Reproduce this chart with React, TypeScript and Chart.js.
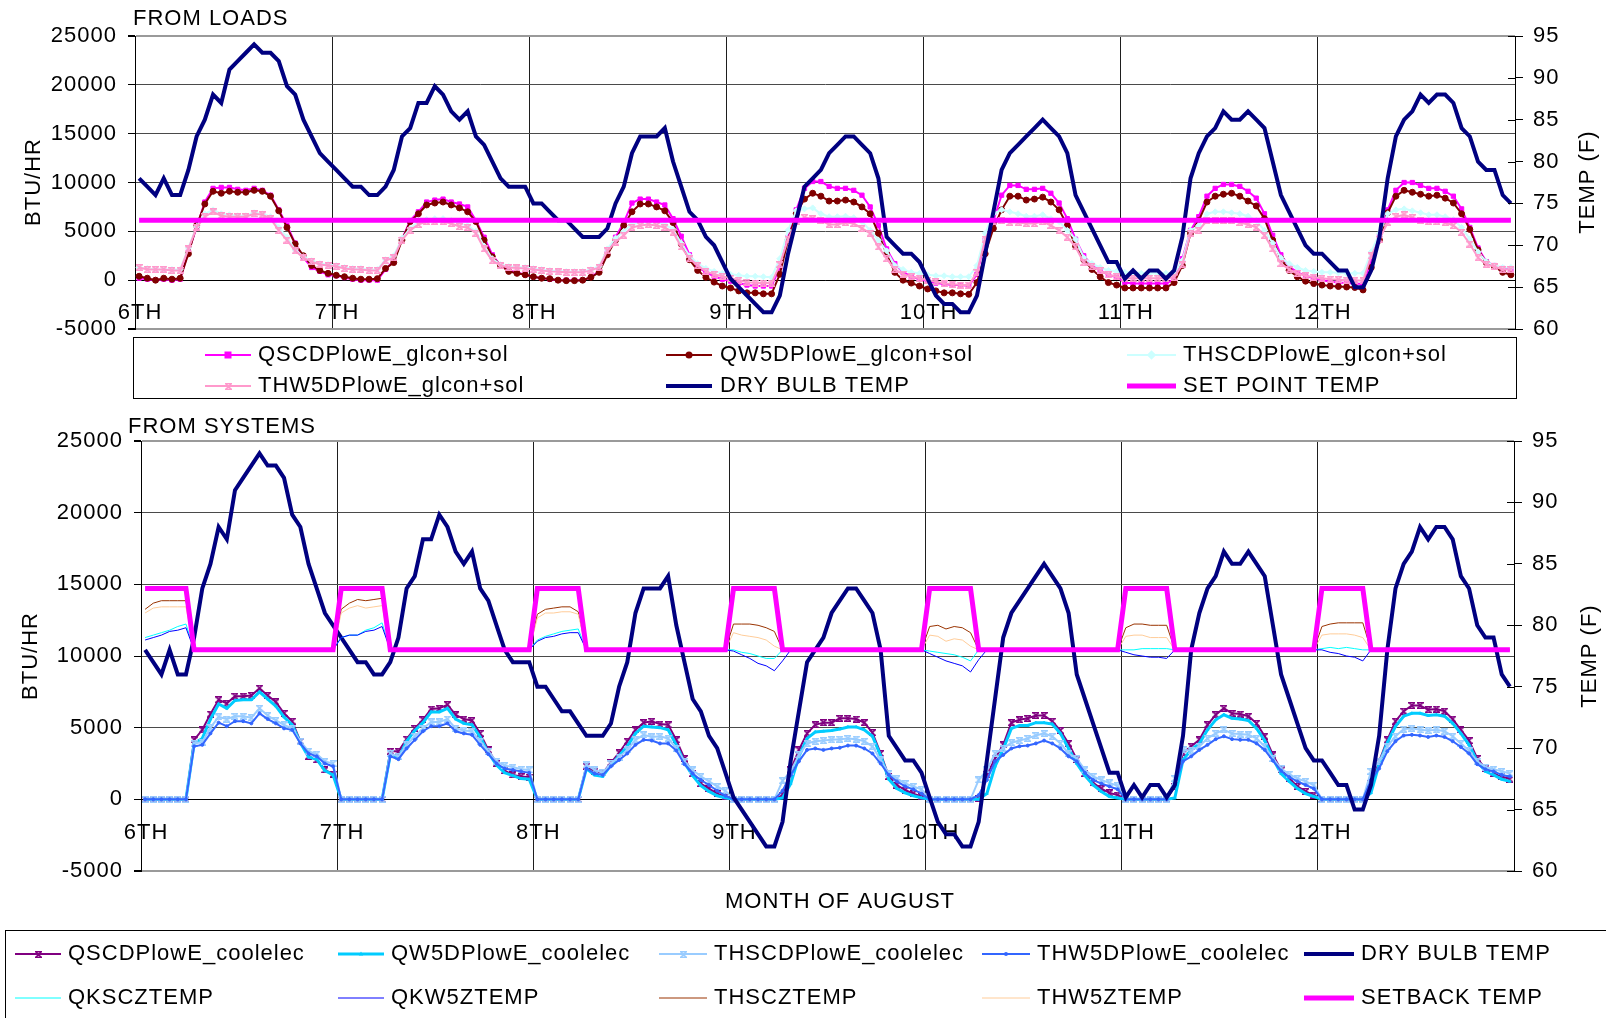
import React, { useEffect, useRef } from 'react';
import { Chart, registerables } from 'chart.js';

Chart.register(...registerables);

const FONT_FAMILY = '"Liberation Sans", Arial, Helvetica, sans-serif';
const FONT_SIZE = 22;
const LETTER_SPACING = '1px';

// ---------------- categories / ticks ----------------
const dayLabels = ['6TH', '7TH', '8TH', '9TH', '10TH', '11TH', '12TH'];
const hoursShown = 168;
const hoursPerDay = 24;
const btuMin = -5000;
const btuMax = 25000;
const btuStep = 5000;
const tempMin = 60;
const tempMax = 95;
const tempStep = 5;

// ---------------- FROM LOADS (BTU/HR) ----------------
const qscdLoads = [
  200, 100, 0, 100, 0, 100, 2900, 5400, 8000, 9400, 9500, 9500, 9300, 9200, 9400, 9200, 8700, 7200, 5600, 3800, 2300, 1300, 900, 550,
  450, 270, 100, 0, 0, 0, 1100, 2000, 4200, 6100, 7000, 8000, 8200, 8300, 8000, 7800, 7500, 6100, 4400, 2600, 1500, 1000, 800, 550,
  350, 200, 100, 0, 0, 0, 0, 300, 900, 2800, 4400, 5900, 7900, 8300, 8300, 8000, 7700, 6300, 4500, 2600, 1400, 800, 400, 100,
  -100, -300, -500, -600, -600, -600, 1300, 4400, 7200, 9400, 10100, 10100, 9600, 9400, 9400, 9200, 8700, 7500, 5600, 3200, 1700, 800, 400, 100,
  -100, -300, -400, -500, -500, -600, 600, 4100, 6100, 8700, 9700, 9700, 9300, 9300, 9400, 8900, 7900, 6300, 4200, 2500, 1500, 1000, 550, 300,
  -250, -350, -350, -350, -350, -350, 100, 2200, 5100, 6500, 8600, 9400, 9800, 9800, 9600, 9100, 8400, 6800, 4600, 2600, 1400, 800, 450, 200,
  0, -150, -250, -300, -350, -400, 2000, 4600, 7200, 9200, 10000, 10000, 9700, 9400, 9400, 9100, 8600, 7300, 5400, 3300, 1900, 1500, 1200, 1100,
];
const qw5Loads = [
  400, 200, 0, 200, 100, 200, 2700, 5600, 7800, 9100, 8900, 9100, 9000, 9000, 9200, 9100, 8600, 7100, 5400, 3700, 2500, 1500, 1000, 700,
  500, 350, 200, 100, 100, 150, 1200, 1800, 4100, 6000, 6800, 7700, 7900, 8000, 7700, 7400, 7000, 6000, 4100, 2400, 1500, 900, 700, 550,
  350, 200, 150, 0, -50, -50, 0, 300, 800, 2600, 4100, 5600, 7000, 7800, 7800, 7500, 7100, 5900, 3700, 2100, 1000, 300, -200, -600,
  -800, -1100, -1300, -1300, -1400, -1400, 600, 4100, 6800, 8300, 8900, 8600, 8100, 8100, 8200, 8000, 7500, 6800, 4800, 2700, 800, 0, -300, -600,
  -900, -1100, -1300, -1300, -1400, -1450, -250, 2700, 5300, 7200, 8600, 8600, 8200, 8300, 8500, 8000, 7200, 5600, 3500, 2100, 1100, 350, -250, -500,
  -800, -800, -800, -800, -800, -800, -250, 1500, 4800, 6100, 8000, 8600, 8800, 8900, 8600, 8100, 7600, 6300, 4100, 2200, 1000, 350, -100, -350,
  -500, -600, -650, -700, -750, -1000, 1300, 4100, 6900, 8600, 9200, 9000, 8800, 8600, 8700, 8400, 7900, 6800, 5200, 3100, 1800, 1400, 800, 550,
];
const thscLoads = [
  1300, 1200, 1100, 1100, 1100, 1100, 3300, 5500, 6800, 7200, 6800, 6700, 6600, 6600, 6900, 6800, 6500, 5400, 4400, 3100, 2400, 2000, 1700, 1600,
  1500, 1300, 1200, 1200, 1100, 1100, 2100, 2500, 4300, 5300, 6000, 6200, 6300, 6300, 6100, 5800, 5600, 5000, 3500, 2200, 1600, 1400, 1350, 1300,
  1200, 1100, 1000, 950, 900, 900, 900, 1100, 1400, 3200, 4300, 5000, 5700, 5900, 5900, 5900, 5700, 5200, 3800, 2500, 1700, 1200, 900, 700,
  600, 500, 400, 400, 350, 300, 2200, 5100, 7100, 7300, 7400, 6800, 6500, 6500, 6550, 6400, 6000, 5100, 4100, 3000, 1500, 1100, 800, 700,
  550, 450, 450, 350, 350, 350, 1500, 4800, 6800, 7200, 7000, 6800, 6550, 6550, 6700, 6300, 6000, 5100, 4200, 2300, 1700, 1300, 1000, 900,
  800, 800, 700, 700, 700, 700, 650, 2000, 5100, 5600, 6800, 7000, 7000, 6900, 6800, 6550, 6100, 5100, 3800, 2300, 1700, 1300, 1000, 900,
  800, 800, 750, 700, 700, 700, 2900, 4800, 6800, 7200, 7300, 7100, 6900, 6700, 6700, 6500, 6200, 5400, 4200, 2900, 1900, 1500, 1300, 1300,
];
const thw5Loads = [
  1300, 1100, 1100, 1100, 1000, 1000, 3200, 5400, 6500, 7000, 6600, 6500, 6500, 6500, 6800, 6700, 6300, 5100, 4100, 3000, 2300, 1900, 1600, 1500,
  1400, 1200, 1100, 1100, 1000, 1000, 2000, 2300, 4100, 5100, 5700, 6000, 6000, 6000, 5800, 5500, 5400, 4800, 3200, 2000, 1500, 1300, 1250, 1200,
  1100, 1000, 900, 850, 800, 800, 800, 1000, 1300, 3000, 3900, 4600, 5400, 5600, 5700, 5600, 5400, 4900, 3400, 2200, 1500, 900, 600, 400,
  200, 0, -200, -300, -300, -300, 1600, 4200, 6000, 6400, 6300, 6100, 5700, 5700, 5900, 5800, 5300, 4800, 3400, 2200, 1100, 600, 350, 200,
  0, -150, -350, -400, -500, -500, 800, 4200, 6000, 6100, 5900, 5900, 5800, 5800, 6000, 5600, 5100, 4400, 3400, 1800, 1400, 1000, 550, 350,
  200, 200, 200, 200, 200, 200, 300, 1600, 4800, 5100, 6100, 6100, 6100, 6100, 5900, 5700, 5400, 4600, 3200, 1700, 1100, 700, 450, 300,
  200, 100, 50, 0, 0, -50, 2500, 4200, 5900, 6500, 6700, 6400, 6100, 6000, 6000, 5900, 5600, 4900, 3700, 2300, 1600, 1400, 1100, 1100,
];

// ---------------- temperatures (F) ----------------
const dryBulbTemp = [
  78, 77, 76, 78, 76, 76, 79, 83, 85, 88, 87, 91, 92, 93, 94, 93, 93, 92, 89, 88, 85, 83, 81, 80,
  79, 78, 77, 77, 76, 76, 77, 79, 83, 84, 87, 87, 89, 88, 86, 85, 86, 83, 82, 80, 78, 77, 77, 77,
  75, 75, 74, 73, 73, 72, 71, 71, 71, 72, 75, 77, 81, 83, 83, 83, 84, 80, 77, 74, 73, 71, 70, 68,
  66, 65, 64, 63, 62, 62, 64, 69, 73, 77, 78, 79, 81, 82, 83, 83, 82, 81, 78, 71, 70, 69, 69, 68,
  66, 64, 63, 63, 62, 62, 64, 69, 74, 79, 81, 82, 83, 84, 85, 84, 83, 81, 76, 74, 72, 70, 68, 68,
  66, 67, 66, 67, 67, 66, 67, 71, 78, 81, 83, 84, 86, 85, 85, 86, 85, 84, 80, 76, 74, 72, 70, 69,
  69, 68, 67, 67, 65, 65, 67, 71, 78, 83, 85, 86, 88, 87, 88, 88, 87, 84, 83, 80, 79, 79, 76, 75,
];
const setPointTemp = [
  73, 73, 73, 73, 73, 73, 73, 73, 73, 73, 73, 73, 73, 73, 73, 73, 73, 73, 73, 73, 73, 73, 73, 73,
  73, 73, 73, 73, 73, 73, 73, 73, 73, 73, 73, 73, 73, 73, 73, 73, 73, 73, 73, 73, 73, 73, 73, 73,
  73, 73, 73, 73, 73, 73, 73, 73, 73, 73, 73, 73, 73, 73, 73, 73, 73, 73, 73, 73, 73, 73, 73, 73,
  73, 73, 73, 73, 73, 73, 73, 73, 73, 73, 73, 73, 73, 73, 73, 73, 73, 73, 73, 73, 73, 73, 73, 73,
  73, 73, 73, 73, 73, 73, 73, 73, 73, 73, 73, 73, 73, 73, 73, 73, 73, 73, 73, 73, 73, 73, 73, 73,
  73, 73, 73, 73, 73, 73, 73, 73, 73, 73, 73, 73, 73, 73, 73, 73, 73, 73, 73, 73, 73, 73, 73, 73,
  73, 73, 73, 73, 73, 73, 73, 73, 73, 73, 73, 73, 73, 73, 73, 73, 73, 73, 73, 73, 73, 73, 73, 73,
];
const setbackTemp = [
  83, 83, 83, 83, 83, 83, 78, 78, 78, 78, 78, 78, 78, 78, 78, 78, 78, 78, 78, 78, 78, 78, 78, 78,
  83, 83, 83, 83, 83, 83, 78, 78, 78, 78, 78, 78, 78, 78, 78, 78, 78, 78, 78, 78, 78, 78, 78, 78,
  83, 83, 83, 83, 83, 83, 78, 78, 78, 78, 78, 78, 78, 78, 78, 78, 78, 78, 78, 78, 78, 78, 78, 78,
  83, 83, 83, 83, 83, 83, 78, 78, 78, 78, 78, 78, 78, 78, 78, 78, 78, 78, 78, 78, 78, 78, 78, 78,
  83, 83, 83, 83, 83, 83, 78, 78, 78, 78, 78, 78, 78, 78, 78, 78, 78, 78, 78, 78, 78, 78, 78, 78,
  83, 83, 83, 83, 83, 83, 78, 78, 78, 78, 78, 78, 78, 78, 78, 78, 78, 78, 78, 78, 78, 78, 78, 78,
  83, 83, 83, 83, 83, 83, 78, 78, 78, 78, 78, 78, 78, 78, 78, 78, 78, 78, 78, 78, 78, 78, 78, 78,
];

// ---------------- FROM SYSTEMS (BTU/HR) ----------------
const qscdElec = [
  0, 0, 0, 0, 0, 0, 4150, 4850, 5950, 6950, 6700, 7200, 7200, 7250, 7750, 7250, 6800, 6000, 5450, 4050, 3000, 2750, 2050, 1750,
  0, 0, 0, 0, 0, 0, 3350, 3350, 4200, 4950, 5550, 6300, 6350, 6600, 5900, 5600, 5500, 4600, 3450, 2500, 2000, 1700, 1600, 1550,
  0, 0, 0, 0, 0, 0, 2300, 1950, 1850, 2550, 3250, 4050, 4850, 5350, 5450, 5250, 5200, 4150, 2850, 1800, 1100, 750, 400, 200,
  0, 0, 0, 0, 0, 0, 300, 2050, 3450, 4600, 5200, 5350, 5350, 5650, 5650, 5600, 5350, 4650, 3200, 1600, 1000, 650, 400, 200,
  0, 0, 0, 0, 0, 0, 50, 1700, 2850, 3800, 5350, 5550, 5650, 5850, 5850, 5450, 4800, 3900, 2800, 1800, 1150, 750, 450, 300,
  0, 0, 0, 0, 0, 0, 900, 3250, 3700, 4150, 5200, 5900, 6350, 6000, 5950, 5800, 5300, 4400, 3100, 2050, 1450, 900, 550, 300,
  0, 0, 0, 0, 0, 0, 1100, 2650, 4150, 5450, 6150, 6550, 6550, 6250, 6300, 6150, 5600, 4850, 4100, 2850, 2150, 1800, 1600, 1400,
];
const qw5Elec = [
  0, 0, 0, 0, 0, 0, 3900, 4250, 5600, 6650, 6350, 6900, 6950, 6950, 7500, 7000, 6500, 5750, 5200, 3950, 2950, 2800, 2000, 1700,
  0, 0, 0, 0, 0, 0, 3100, 2850, 4050, 4800, 5350, 6100, 6100, 6350, 5600, 5300, 5200, 4350, 3250, 2400, 1850, 1650, 1450, 1400,
  0, 0, 0, 0, 0, 0, 2150, 1700, 1600, 2400, 3050, 3700, 4600, 5100, 5050, 5000, 4850, 3800, 2550, 1650, 950, 550, 250, 100,
  0, 0, 0, 0, 0, 0, 100, 1100, 3000, 4250, 4700, 4750, 4800, 4900, 5050, 5050, 4850, 4400, 3050, 1400, 750, 450, 250, 100,
  0, 0, 0, 0, 0, 0, 0, 400, 2300, 3500, 4950, 5150, 5150, 5350, 5350, 5250, 4600, 3550, 2500, 1650, 1000, 550, 200, 100,
  0, 0, 0, 0, 0, 0, 100, 2750, 3450, 3900, 4850, 5550, 5900, 5650, 5600, 5500, 4950, 4100, 2850, 1800, 1250, 750, 400, 200,
  0, 0, 0, 0, 0, 0, 450, 2450, 3950, 5100, 5800, 6000, 6000, 5850, 5900, 5800, 5300, 4600, 3800, 2650, 1950, 1700, 1400, 1250,
];
const thscElec = [
  0, 0, 0, 0, 0, 0, 3900, 4000, 5000, 5750, 5600, 5800, 5800, 5700, 6350, 5850, 5500, 5200, 4950, 4050, 3350, 3150, 2650, 2500,
  0, 0, 0, 0, 0, 0, 3200, 3000, 3800, 4400, 4950, 5400, 5400, 5600, 4950, 4800, 4750, 4050, 3350, 2650, 2350, 2250, 2100, 2050,
  0, 0, 0, 0, 0, 0, 2400, 2050, 1850, 2500, 2950, 3450, 4150, 4500, 4350, 4400, 4250, 3550, 2650, 2050, 1600, 1250, 900, 600,
  0, 0, 0, 0, 0, 0, 1300, 1950, 3100, 3900, 4050, 4100, 4150, 4200, 4250, 4200, 4050, 3700, 2750, 1800, 1450, 1100, 900, 700,
  0, 0, 0, 0, 0, 0, 1350, 2050, 3200, 3550, 3950, 4100, 4250, 4450, 4600, 4400, 3900, 3200, 2850, 2050, 1600, 1350, 1150, 950,
  0, 0, 0, 0, 0, 0, 1450, 3450, 3400, 3700, 4250, 4600, 4850, 4600, 4550, 4500, 4250, 3700, 2850, 2150, 1750, 1450, 1250, 1000,
  0, 0, 0, 0, 0, 0, 1950, 2650, 3700, 4400, 4900, 4950, 4850, 4800, 4850, 4750, 4400, 3900, 3400, 2650, 2250, 2100, 1950, 1800,
];
const thw5Elec = [
  0, 0, 0, 0, 0, 0, 3700, 3800, 4600, 5350, 5100, 5450, 5450, 5300, 6000, 5600, 5300, 4950, 4850, 3900, 3200, 3000, 2500, 2300,
  0, 0, 0, 0, 0, 0, 3000, 2800, 3550, 4150, 4750, 5100, 5100, 5300, 4750, 4600, 4500, 3800, 3150, 2500, 2150, 2050, 1950, 1850,
  0, 0, 0, 0, 0, 0, 2150, 1800, 1700, 2300, 2750, 3200, 3800, 4150, 4100, 3900, 3900, 3400, 2450, 1800, 1350, 1000, 600, 250,
  0, 0, 0, 0, 0, 0, 600, 1700, 2650, 3450, 3550, 3450, 3550, 3600, 3750, 3750, 3550, 3200, 2500, 1700, 1250, 900, 700, 400,
  0, 0, 0, 0, 0, 0, 300, 1350, 2650, 3100, 3550, 3700, 3750, 3900, 4100, 3900, 3550, 3000, 2650, 1850, 1350, 1100, 900, 700,
  0, 0, 0, 0, 0, 0, 1100, 2650, 3000, 3450, 3800, 4200, 4400, 4200, 4150, 4150, 3900, 3450, 2700, 2000, 1550, 1250, 1000, 750,
  0, 0, 0, 0, 0, 0, 1350, 2150, 3350, 4050, 4450, 4500, 4450, 4350, 4450, 4350, 4050, 3650, 3200, 2450, 2100, 1950, 1700, 1600,
];

// ---------------- zone temperatures (F) ----------------
const qkscZTemp = [
  79.0, 79.2, 79.4, 79.6, 79.9, 80.1, 78, 78, 78, 78, 78, 78, 78, 78, 78, 78, 78, 78, 78, 78, 78, 78, 78, 78,
  79.0, 79.2, 79.2, 79.6, 79.8, 80.2, 78, 78, 78, 78, 78, 78, 78, 78, 78, 78, 78, 78, 78, 78, 78, 78, 78, 78,
  78.8, 79.1, 79.3, 79.5, 79.6, 79.7, 78, 78, 78, 78, 78, 78, 78, 78, 78, 78, 78, 78, 78, 78, 78, 78, 78, 78,
  78.0, 77.8, 77.7, 77.5, 77.3, 77.3, 78, 78, 78, 78, 78, 78, 78, 78, 78, 78, 78, 78, 78, 78, 78, 78, 78, 78,
  77.9, 77.8, 77.7, 77.6, 77.4, 77.1, 78, 78, 78, 78, 78, 78, 78, 78, 78, 78, 78, 78, 78, 78, 78, 78, 78, 78,
  78.0, 78.0, 78.1, 78.1, 78.1, 78.1, 78, 78, 78, 78, 78, 78, 78, 78, 78, 78, 78, 78, 78, 78, 78, 78, 78, 78,
  78.1, 78.2, 78.1, 78.2, 78.1, 78.0, 78, 78, 78, 78, 78, 78, 78, 78, 78, 78, 78, 78, 78, 78, 78, 78, 78, 78,
];
const qkw5ZTemp = [
  78.8, 79.0, 79.2, 79.5, 79.6, 79.8, 78, 78, 78, 78, 78, 78, 78, 78, 78, 78, 78, 78, 78, 78, 78, 78, 78, 78,
  79.0, 79.2, 79.2, 79.5, 79.6, 79.9, 78, 78, 78, 78, 78, 78, 78, 78, 78, 78, 78, 78, 78, 78, 78, 78, 78, 78,
  78.7, 79.0, 79.1, 79.3, 79.4, 79.4, 78, 78, 78, 78, 78, 78, 78, 78, 78, 78, 78, 78, 78, 78, 78, 78, 78, 78,
  77.9, 77.6, 77.3, 76.9, 76.7, 76.3, 77.1, 78, 78, 78, 78, 78, 78, 78, 78, 78, 78, 78, 78, 78, 78, 78, 78, 78,
  77.7, 77.4, 77.1, 76.9, 76.7, 76.2, 77.2, 78, 78, 78, 78, 78, 78, 78, 78, 78, 78, 78, 78, 78, 78, 78, 78, 78,
  77.8, 77.6, 77.5, 77.4, 77.4, 77.3, 78, 78, 78, 78, 78, 78, 78, 78, 78, 78, 78, 78, 78, 78, 78, 78, 78, 78,
  78.0, 77.8, 77.7, 77.5, 77.4, 77.1, 78, 78, 78, 78, 78, 78, 78, 78, 78, 78, 78, 78, 78, 78, 78, 78, 78, 78,
];
const thscZTemp = [
  81.3, 81.8, 82.0, 82.0, 82.0, 82.0, 78, 78, 78, 78, 78, 78, 78, 78, 78, 78, 78, 78, 78, 78, 78, 78, 78, 78,
  81.3, 81.8, 82.1, 82.0, 82.1, 82.2, 78, 78, 78, 78, 78, 78, 78, 78, 78, 78, 78, 78, 78, 78, 78, 78, 78, 78,
  80.9, 81.3, 81.4, 81.5, 81.5, 81.1, 78, 78, 78, 78, 78, 78, 78, 78, 78, 78, 78, 78, 78, 78, 78, 78, 78, 78,
  80.1, 80.1, 80.1, 80.0, 79.8, 79.5, 78, 78, 78, 78, 78, 78, 78, 78, 78, 78, 78, 78, 78, 78, 78, 78, 78, 78,
  79.9, 80.0, 79.7, 79.9, 79.8, 79.4, 78, 78, 78, 78, 78, 78, 78, 78, 78, 78, 78, 78, 78, 78, 78, 78, 78, 78,
  79.8, 80.1, 80.1, 80.0, 80.0, 80.0, 78, 78, 78, 78, 78, 78, 78, 78, 78, 78, 78, 78, 78, 78, 78, 78, 78, 78,
  79.9, 80.1, 80.2, 80.2, 80.2, 80.2, 78, 78, 78, 78, 78, 78, 78, 78, 78, 78, 78, 78, 78, 78, 78, 78, 78, 78,
];
const thw5ZTemp = [
  81.0, 81.4, 81.5, 81.5, 81.5, 81.5, 78, 78, 78, 78, 78, 78, 78, 78, 78, 78, 78, 78, 78, 78, 78, 78, 78, 78,
  81.0, 81.4, 81.6, 81.4, 81.5, 81.6, 78, 78, 78, 78, 78, 78, 78, 78, 78, 78, 78, 78, 78, 78, 78, 78, 78, 78,
  80.6, 81.0, 81.0, 81.1, 81.1, 80.9, 78, 78, 78, 78, 78, 78, 78, 78, 78, 78, 78, 78, 78, 78, 78, 78, 78, 78,
  79.4, 79.2, 79.1, 79.0, 78.8, 78.3, 78, 78, 78, 78, 78, 78, 78, 78, 78, 78, 78, 78, 78, 78, 78, 78, 78, 78,
  79.2, 79.1, 78.7, 78.9, 78.8, 78.3, 78, 78, 78, 78, 78, 78, 78, 78, 78, 78, 78, 78, 78, 78, 78, 78, 78, 78,
  79.1, 79.2, 79.2, 79.0, 79.0, 79.0, 78, 78, 78, 78, 78, 78, 78, 78, 78, 78, 78, 78, 78, 78, 78, 78, 78, 78,
  79.2, 79.3, 79.3, 79.3, 79.2, 79.0, 78, 78, 78, 78, 78, 78, 78, 78, 78, 78, 78, 78, 78, 78, 78, 78, 78, 78,
];

// ---------------- helpers ----------------
const font = (size = FONT_SIZE) => ({ family: FONT_FAMILY, size });

function toPoints(values: number[]) {
  // hourly values are centred in their hour slot
  return values.map((v, i) => ({ x: i + 0.5, y: v }));
}

// Excel-like "star" marker: an X closed by top and bottom bars
function hourglassMarker(color: string, size = 7, lw = 1.4): HTMLCanvasElement {
  const c = document.createElement('canvas');
  c.width = size;
  c.height = size;
  const g = c.getContext('2d') as CanvasRenderingContext2D;
  g.strokeStyle = color;
  g.lineWidth = lw;
  g.beginPath();
  g.moveTo(0, 0.7);
  g.lineTo(size, 0.7);
  g.moveTo(0, size - 0.7);
  g.lineTo(size, size - 0.7);
  g.moveTo(0.5, 0.5);
  g.lineTo(size - 0.5, size - 0.5);
  g.moveTo(size - 0.5, 0.5);
  g.lineTo(0.5, size - 0.5);
  g.stroke();
  return c;
}

function drawMarker(ctx: CanvasRenderingContext2D, style: any, x: number, y: number, r: number, color: string, bw: number) {
  ctx.save();
  if (style && typeof style === 'object') {
    ctx.drawImage(style, Math.round(x - style.width / 2), Math.round(y - style.height / 2));
    ctx.restore();
    return;
  }
  ctx.fillStyle = color;
  ctx.strokeStyle = color;
  ctx.lineWidth = bw;
  ctx.beginPath();
  if (style === 'rect') {
    ctx.rect(x - r, y - r, 2 * r, 2 * r);
    ctx.fill();
  } else if (style === 'rectRot') {
    const d = r * 1.35;
    ctx.moveTo(x, y - d);
    ctx.lineTo(x + d, y);
    ctx.lineTo(x, y + d);
    ctx.lineTo(x - d, y);
    ctx.closePath();
    ctx.fill();
  } else if (style === 'triangle') {
    ctx.moveTo(x, y - r * 1.2);
    ctx.lineTo(x + r * 1.1, y + r * 0.8);
    ctx.lineTo(x - r * 1.1, y + r * 0.8);
    ctx.closePath();
    ctx.fill();
  } else {
    ctx.arc(x, y, r, 0, Math.PI * 2);
    ctx.fill();
  }
  ctx.restore();
}

type TextSpec = { text: string; x: number; y: number; rotate?: boolean; align?: CanvasTextAlign };
type LegendSpec = { ds: number; x1: number; x2: number; tx: number; y: number };

function makeExtras(texts: TextSpec[], legend: LegendSpec[], box: { x: number; y: number; w: number; h: number }) {
  return {
    id: 'extras',
    beforeUpdate(chart: any) {
      chart.ctx.letterSpacing = LETTER_SPACING;
    },
    beforeDraw(chart: any) {
      chart.ctx.letterSpacing = LETTER_SPACING;
    },
    afterDraw(chart: any) {
      const ctx: CanvasRenderingContext2D = chart.ctx;
      ctx.save();
      // inner half of the cross tick marks on the temperature axis
      const y1 = chart.scales.y1;
      ctx.strokeStyle = '#000';
      ctx.lineWidth = 1;
      ctx.beginPath();
      for (const t of y1.ticks) {
        const py = Math.round(y1.getPixelForValue(t.value)) + 0.5;
        ctx.moveTo(y1.left - 7, py);
        ctx.lineTo(y1.left, py);
      }
      ctx.stroke();

      (ctx as any).letterSpacing = LETTER_SPACING;
      ctx.fillStyle = '#000';
      ctx.font = `${FONT_SIZE}px ${FONT_FAMILY}`;
      ctx.textBaseline = 'middle';
      for (const t of texts) {
        ctx.save();
        ctx.translate(t.x, t.y);
        if (t.rotate) ctx.rotate(-Math.PI / 2);
        ctx.textAlign = t.align || 'center';
        ctx.fillText(t.text, 0, 0);
        ctx.restore();
      }
      ctx.strokeStyle = '#000';
      ctx.lineWidth = 1;
      ctx.strokeRect(box.x + 0.5, box.y + 0.5, box.w, box.h);
      for (const item of legend) {
        const ds = chart.data.datasets[item.ds];
        ctx.save();
        ctx.strokeStyle = ds.borderColor;
        ctx.lineWidth = ds.borderWidth;
        ctx.beginPath();
        ctx.moveTo(item.x1, item.y);
        ctx.lineTo(item.x2, item.y);
        ctx.stroke();
        if (ds.pointRadius > 0) {
          drawMarker(ctx, ds.pointStyle, (item.x1 + item.x2) / 2, item.y, ds.pointRadius + 0.5, ds.borderColor, ds.pointBorderWidth || 1);
        }
        ctx.restore();
        ctx.textAlign = 'left';
        ctx.fillText(ds.label, item.tx, item.y);
      }
      ctx.restore();
    },
  };
}

function lineDs(label: string, values: number[], axis: string, color: string, width: number, style: any, radius: number, order: number, pbw = 1) {
  return {
    label,
    data: toPoints(values),
    yAxisID: axis,
    borderColor: color,
    backgroundColor: color,
    borderWidth: width,
    pointStyle: style,
    pointRadius: radius,
    pointBackgroundColor: color,
    pointBorderColor: color,
    pointBorderWidth: pbw,
    pointHoverRadius: radius,
    tension: 0,
    fill: false,
    order,
  };
}

function scalesFor(leftWidth: number, rightWidth: number, xPad: number) {
  const edge = (c: any) => c.tick && (c.tick.value === btuMax || c.tick.value === btuMin);
  return {
    x: {
      type: 'linear',
      position: { y: 0 },
      min: 0,
      max: hoursShown,
      ticks: {
        stepSize: hoursPerDay,
        autoSkip: false,
        maxRotation: 0,
        padding: xPad,
        labelOffset: 5,
        color: '#000',
        font: font(),
        callback: (v: number) => dayLabels[Math.round(v / hoursPerDay)] ?? '',
      },
      grid: { color: '#1e1e1e', lineWidth: 1, drawTicks: false },
      border: { display: true, color: '#000', width: 1 },
    },
    y: {
      type: 'linear',
      position: 'left',
      min: btuMin,
      max: btuMax,
      ticks: { stepSize: btuStep, color: '#000', font: font(), padding: 11, callback: (v: number) => String(v) },
      grid: {
        color: (c: any) => (edge(c) ? '#9a9a9a' : '#4a4a4a'),
        lineWidth: (c: any) => (edge(c) ? 2 : 1),
        tickColor: '#000',
        tickLength: 7,
        drawTicks: true,
      },
      border: { display: true, color: '#000', width: 1 },
      afterFit: (s: any) => {
        s.width = leftWidth;
      },
    },
    y1: {
      type: 'linear',
      position: 'right',
      min: tempMin,
      max: tempMax,
      ticks: { stepSize: tempStep, color: '#000', font: font(), padding: 10 },
      grid: { drawOnChartArea: false, drawTicks: true, tickLength: 8, color: '#000' },
      border: { display: true, color: '#000', width: 1 },
      afterFit: (s: any) => {
        s.width = rightWidth;
      },
    },
  };
}

function topConfig(): any {
  const datasets = [
    lineDs('QSCDPlowE_glcon+sol', qscdLoads, 'y', '#FF00FF', 2, 'rect', 3, 6),
    lineDs('QW5DPlowE_glcon+sol', qw5Loads, 'y', '#800000', 2, 'circle', 3, 5),
    lineDs('THSCDPlowE_glcon+sol', thscLoads, 'y', '#CCFFFF', 2, 'rectRot', 3, 4),
    lineDs('THW5DPlowE_glcon+sol', thw5Loads, 'y', '#FF99CC', 2, hourglassMarker('#FF99CC'), 3.5, 3),
    lineDs('DRY BULB TEMP', dryBulbTemp, 'y1', '#000080', 4, 'circle', 0, 2),
    lineDs('SET POINT TEMP', setPointTemp, 'y1', '#FF00FF', 5, 'circle', 0, 1),
  ];
  const texts: TextSpec[] = [
    { text: 'FROM LOADS', x: 133, y: 19, align: 'left' },
    { text: 'BTU/HR', x: 34, y: 182, rotate: true },
    { text: 'TEMP (F)', x: 1588, y: 182, rotate: true },
  ];
  const legend: LegendSpec[] = [
    { ds: 0, x1: 205, x2: 251, tx: 258, y: 355 },
    { ds: 1, x1: 666, x2: 712, tx: 720, y: 355 },
    { ds: 2, x1: 1127, x2: 1176, tx: 1183, y: 355 },
    { ds: 3, x1: 205, x2: 251, tx: 258, y: 386 },
    { ds: 4, x1: 666, x2: 712, tx: 720, y: 386 },
    { ds: 5, x1: 1127, x2: 1176, tx: 1183, y: 386 },
  ];
  return {
    type: 'line',
    data: { datasets },
    options: {
      responsive: false,
      animation: false,
      devicePixelRatio: 1,
      events: [],
      layout: { padding: { top: 36, bottom: 71, left: 0, right: 0 } },
      plugins: { legend: { display: false }, tooltip: { enabled: false } },
      scales: scalesFor(135, 91, 20),
    },
    plugins: [makeExtras(texts, legend, { x: 133, y: 337, w: 1383, h: 61 })],
  };
}

function bottomConfig(): any {
  const datasets = [
    lineDs('QSCDPlowE_coolelec', qscdElec, 'y', '#800080', 2, hourglassMarker('#800080'), 3.5, 10),
    lineDs('QW5DPlowE_coolelec', qw5Elec, 'y', '#00CCFF', 3, 'triangle', 1.5, 9),
    lineDs('THSCDPlowE_coolelec', thscElec, 'y', '#99CCFF', 2, hourglassMarker('#99CCFF'), 3.5, 8),
    lineDs('THW5DPlowE_coolelec', thw5Elec, 'y', '#3366FF', 2, 'circle', 1.5, 7),
    lineDs('DRY BULB TEMP', dryBulbTemp, 'y1', '#000080', 4, 'circle', 0, 6),
    lineDs('QKSCZTEMP', qkscZTemp, 'y1', '#00FFFF', 1, 'circle', 0, 5),
    lineDs('QKW5ZTEMP', qkw5ZTemp, 'y1', '#0000FF', 1, 'circle', 0, 4),
    lineDs('THSCZTEMP', thscZTemp, 'y1', '#993300', 1, 'circle', 0, 3),
    lineDs('THW5ZTEMP', thw5ZTemp, 'y1', '#FFCC99', 1, 'circle', 0, 2),
    lineDs('SETBACK TEMP', setbackTemp, 'y1', '#FF00FF', 5, 'circle', 0, 1),
  ];
  const texts: TextSpec[] = [
    { text: 'FROM SYSTEMS', x: 128, y: 27, align: 'left' },
    { text: 'BTU/HR', x: 31, y: 256, rotate: true },
    { text: 'TEMP (F)', x: 1590, y: 256, rotate: true },
    { text: 'MONTH OF AUGUST', x: 840, y: 502 },
  ];
  const cols = [
    [15, 61, 68],
    [338, 384, 391],
    [659, 707, 714],
    [982, 1030, 1037],
    [1304, 1354, 1361],
  ];
  const legend: LegendSpec[] = [];
  for (let k = 0; k < 10; k++) {
    const c = cols[k % 5];
    legend.push({ ds: k, x1: c[0], x2: c[1], tx: c[2], y: k < 5 ? 554 : 598 });
  }
  return {
    type: 'line',
    data: { datasets },
    options: {
      responsive: false,
      animation: false,
      devicePixelRatio: 1,
      events: [],
      layout: { padding: { top: 41, bottom: 147, left: 0, right: 0 } },
      plugins: { legend: { display: false }, tooltip: { enabled: false } },
      scales: scalesFor(141, 92, 20),
    },
    plugins: [makeExtras(texts, legend, { x: 5, y: 530, w: 1700, h: 200 })],
  };
}

export default function App() {
  const topRef = useRef<HTMLCanvasElement>(null);
  const bottomRef = useRef<HTMLCanvasElement>(null);

  useEffect(() => {
    document.body.style.margin = '0';
    const c1 = new Chart(topRef.current as HTMLCanvasElement, topConfig());
    const c2 = new Chart(bottomRef.current as HTMLCanvasElement, bottomConfig());
    return () => {
      c1.destroy();
      c2.destroy();
    };
  }, []);

  return (
    <div style={{ position: 'absolute', left: 0, top: 0, width: 1606, height: 1018, background: '#fff', overflow: 'hidden' }}>
      <canvas ref={topRef} width={1606} height={400} style={{ position: 'absolute', left: 0, top: 0, width: 1606, height: 400 }} />
      <canvas ref={bottomRef} width={1606} height={618} style={{ position: 'absolute', left: 0, top: 400, width: 1606, height: 618 }} />
    </div>
  );
}
